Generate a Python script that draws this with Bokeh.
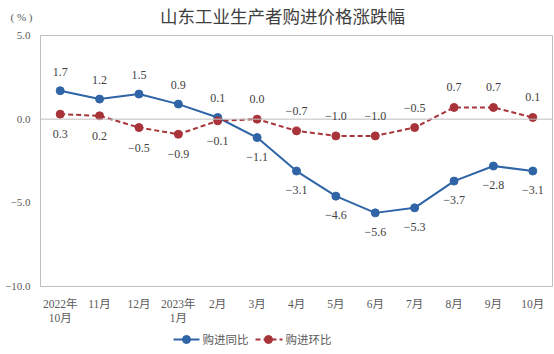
from bokeh.plotting import figure
from bokeh.layouts import column
from bokeh.core.properties import value
from bokeh.models import (ColumnDataSource, FixedTicker, Span, Range1d, LabelSet)
from bokeh.embed import file_html
from bokeh.resources import INLINE

months = ["2022年\n10月", "11月", "12月", "2023年\n1月", "2月", "3月", "4月",
          "5月", "6月", "7月", "8月", "9月", "10月"]
yoy = [1.7, 1.2, 1.5, 0.9, 0.1, -1.1, -3.1, -4.6, -5.6, -5.3, -3.7, -2.8, -3.1]
mom = [0.3, 0.2, -0.5, -0.9, -0.1, 0.0, -0.7, -1.0, -1.0, -0.5, 0.7, 0.7, 0.1]
y_ticks = [5.0, 0.0, -5.0, -10.0]
series_names = ["购进同比", "购进环比"]
title_text = "山东工业生产者购进价格涨跌幅"
unit_text = "( % )"

BLUE = "#2F64A6"
RED = "#A8343A"
TXT = "#595959"
SERIF = "Liberation Serif, Noto Sans CJK SC"
W = 554
LEFT, RIGHT = 40, 2
HEAD_H, MAIN_H, LEG_H = 27, 301, 26

x = list(range(len(months)))

def fmt(v):
    s = f"{abs(v):.1f}"
    return ("\u2212" + s) if v < 0 else s

def blank_fig(h):
    f = figure(width=W, height=h, output_backend="svg", toolbar_location=None,
               x_range=Range1d(LEFT, W - RIGHT), y_range=Range1d(0, h),
               min_border_left=LEFT, min_border_right=RIGHT,
               min_border_top=0, min_border_bottom=0,
               outline_line_color=None)
    f.xaxis.visible = False
    f.grid.visible = False
    f.border_fill_color = "white"
    f.background_fill_color = "white"
    return f

# ---------- header ----------
head = blank_fig(HEAD_H)
hy = HEAD_H - 16
head.text(x=[282], y=[hy], text=[title_text], text_align="center",
          text_baseline="middle", text_font=value(SERIF), text_font_size="17.5px",
          text_color="#404040")
# unit text shown as the header's left axis label
head.yaxis.ticker = FixedTicker(ticks=[hy])
head.yaxis.major_label_overrides = {hy: unit_text}
head.yaxis.axis_line_color = None
head.yaxis.major_tick_line_color = None
head.yaxis.minor_tick_line_color = None
head.yaxis.major_label_text_font = SERIF
head.yaxis.major_label_text_font_size = "11px"
head.yaxis.major_label_text_color = TXT
head.yaxis.major_label_standoff = 2

# ---------- main ----------
p = figure(width=W, height=MAIN_H, output_backend="svg", toolbar_location=None,
           x_range=Range1d(-0.5, len(months) - 0.5), y_range=Range1d(-10, 5),
           min_border_left=LEFT, min_border_right=RIGHT, min_border_top=8, min_border_bottom=42)
p.outline_line_color = "#BFBFBF"
p.grid.visible = False
p.background_fill_color = "white"
p.border_fill_color = "white"

p.add_layout(Span(location=0, dimension="width", line_color="#BFBFBF", line_width=1))

p.yaxis.ticker = FixedTicker(ticks=y_ticks)
p.yaxis.major_label_overrides = {t: fmt(t) for t in y_ticks}
p.yaxis.axis_line_color = None
p.yaxis.major_tick_line_color = None
p.yaxis.minor_tick_line_color = None
p.yaxis.major_label_text_font = SERIF
p.yaxis.major_label_text_font_size = "11px"
p.yaxis.major_label_text_color = TXT
p.yaxis.major_label_standoff = 4

p.xaxis.ticker = FixedTicker(ticks=x)
p.xaxis.major_label_overrides = {i: m for i, m in enumerate(months)}
p.xaxis.axis_line_color = None
p.xaxis.major_tick_line_color = None
p.xaxis.minor_tick_line_color = None
p.xaxis.major_label_text_font = SERIF
p.xaxis.major_label_text_font_size = "11.5px"
p.xaxis.major_label_text_color = TXT
p.xaxis.major_label_standoff = 5

src = ColumnDataSource(dict(
    x=x, yoy=yoy, mom=mom,
    yoy_lbl=[fmt(v) for v in yoy], mom_lbl=[fmt(v) for v in mom],
    yoy_off=[19 if i <= 4 else -19 for i in x],
    mom_off=[-20 if i <= 4 else 20 for i in x],
))

p.line("x", "yoy", source=src, line_color=BLUE, line_width=2)
p.scatter("x", "yoy", source=src, size=8, fill_color=BLUE, line_color=BLUE)
p.line("x", "mom", source=src, line_color=RED, line_width=2, line_dash="5 3")
p.scatter("x", "mom", source=src, size=8, fill_color=RED, line_color=RED)

for col, lbl, off in [("yoy", "yoy_lbl", "yoy_off"), ("mom", "mom_lbl", "mom_off")]:
    p.add_layout(LabelSet(x="x", y=col, text=lbl, y_offset=off, source=src,
                          text_align="center", text_baseline="middle",
                          text_font=SERIF, text_font_size="12px", text_color="#404040"))

# ---------- legend ----------
leg = blank_fig(LEG_H)
leg.yaxis.visible = False
ly = LEG_H - 11
leg.line(x=[173, 199], y=[ly, ly], line_color=BLUE, line_width=2)
leg.scatter(x=[186], y=[ly], size=8, fill_color=BLUE, line_color=BLUE)
leg.text(x=[202], y=[ly], text=[series_names[0]], text_align="left",
         text_baseline="middle", text_font=value(SERIF), text_font_size="11.5px",
         text_color=TXT)
leg.line(x=[255, 282], y=[ly, ly], line_color=RED, line_width=2, line_dash="5 3")
leg.scatter(x=[268], y=[ly], size=8, fill_color=RED, line_color=RED)
leg.text(x=[285], y=[ly], text=[series_names[1]], text_align="left",
         text_baseline="middle", text_font=value(SERIF), text_font_size="11.5px",
         text_color=TXT)

layout = column(head, p, leg, spacing=0)
open("out.html", "w").write(file_html(layout, INLINE))
